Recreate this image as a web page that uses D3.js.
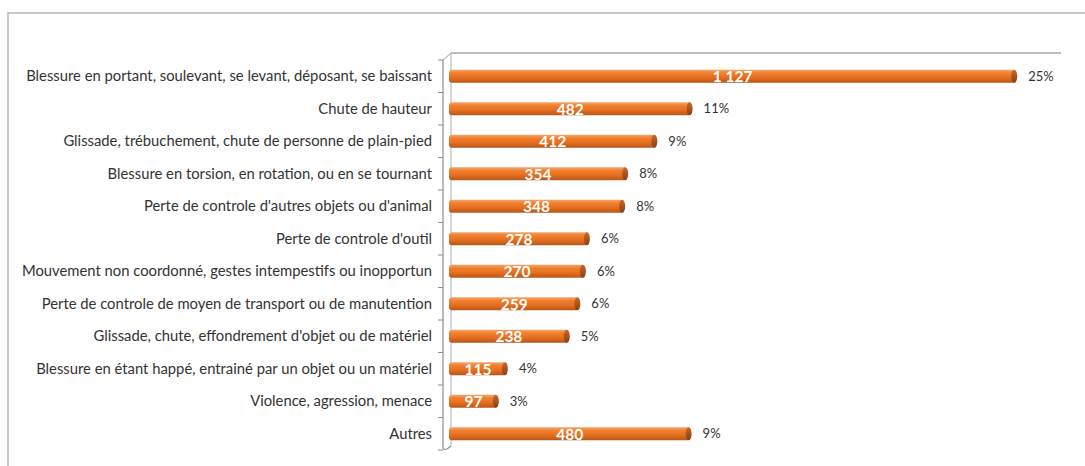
<!DOCTYPE html>
<html>
<head>
<meta charset="utf-8">
<script src="https://cdn.jsdelivr.net/npm/d3@7"></script>
<style>
  body { margin: 0; background: #fff; }
  svg { display: block; }
</style>
</head>
<body>
<div id="chart-container"></div>
<script>
var categories = [
  "Blessure en portant, soulevant,  se levant, déposant, se baissant",
  "Chute de hauteur",
  "Glissade, trébuchement, chute de personne de plain-pied",
  "Blessure en torsion, en rotation,  ou en se tournant",
  "Perte de controle d'autres objets ou d'animal",
  "Perte de controle d'outil",
  "Mouvement non coordonné,  gestes intempestifs ou inopportun",
  "Perte de controle de moyen de transport ou de manutention",
  "Glissade, chute, effondrement d'objet ou de matériel",
  "Blessure en étant happé, entrainé par un objet ou un matériel",
  "Violence, agression, menace",
  "Autres"
];
var values = [1127, 482, 412, 354, 348, 278, 270, 259, 238, 115, 97, 480];
var valueLabels = ["1 127", "482", "412", "354", "348", "278", "270", "259", "238", "115", "97", "480"];
var percents = ["25%", "11%", "9%", "8%", "8%", "6%", "6%", "6%", "5%", "4%", "3%", "9%"];

var data = categories.map(function(c, i) {
  return { name: c, value: values[i], label: valueLabels[i], pct: percents[i] };
});

var width = 1085, height = 466;
var depthX = 8, depthY = -7;

var svg = d3.select("#chart-container")
  .append("svg")
  .attr("width", width)
  .attr("height", height);

// outer chart frame
svg.append("rect")
  .attr("x", 8).attr("y", 13)
  .attr("width", 1090).attr("height", 470)
  .attr("fill", "none")
  .attr("stroke", "#b8b8b8")
  .attr("stroke-width", 1.5);

var x = d3.scaleLinear().domain([0, 1200]).range([449, 1053]);
var y = d3.scaleBand().domain(categories).range([60, 450])
  .paddingInner(0.6).paddingOuter(0.3);

var defs = svg.append("defs");
var grad = defs.append("linearGradient")
  .attr("id", "barGrad")
  .attr("x1", 0).attr("y1", 0).attr("x2", 0).attr("y2", 1);
grad.append("stop").attr("offset", "0%").attr("stop-color", "#f6a66a");
grad.append("stop").attr("offset", "25%").attr("stop-color", "#f08030");
grad.append("stop").attr("offset", "60%").attr("stop-color", "#e56f1f");
grad.append("stop").attr("offset", "100%").attr("stop-color", "#b8561a");

var capGrad = defs.append("linearGradient")
  .attr("id", "capGrad")
  .attr("x1", 0).attr("y1", 0).attr("x2", 0).attr("y2", 1);
capGrad.append("stop").attr("offset", "0%").attr("stop-color", "#c9682b");
capGrad.append("stop").attr("offset", "100%").attr("stop-color", "#8a3f12");

// 3D walls: back plane top edge and side wall
var x0 = x(0) - 6, yTop = y.range()[0], yBot = y.range()[1];
svg.append("path")
  .attr("d", "M" + (x0 + depthX) + "," + (yTop + depthY) + "H" + (x(1200) + depthX))
  .attr("stroke", "#bdbdbd").attr("stroke-width", 2).attr("fill", "none");
svg.append("path")
  .attr("d", "M" + (x0 + depthX) + "," + (yTop + depthY) + "V" + (yBot - 4))
  .attr("stroke", "#c8c8c8").attr("stroke-width", 1.5).attr("fill", "none");
svg.append("path")
  .attr("d", "M" + x0 + "," + yTop + "L" + (x0 + depthX) + "," + (yTop + depthY))
  .attr("stroke", "#9a9a9a").attr("stroke-width", 1).attr("fill", "none");

// front axis
var yAxis = d3.axisLeft(y).tickSize(0).tickFormat("");
svg.append("g")
  .attr("class", "y-axis")
  .attr("transform", "translate(" + x0 + ",0)")
  .call(yAxis)
  .call(function(g) {
    g.select(".domain").attr("stroke", "#8c8c8c").attr("stroke-width", 1.2)
      .attr("d", "M0," + yTop + "V" + (yBot - 2) + "Q0," + yBot + " 4," + (yBot - 1) + "L" + depthX + "," + (yBot - 4));
  });

// tick marks at category boundaries
var step = y.step();
var boundaries = d3.range(categories.length + 1).map(function(i) { return yTop + i * step; });
svg.append("g").selectAll("line")
  .data(boundaries)
  .enter().append("line")
  .attr("x1", x0 - 5).attr("x2", x0)
  .attr("y1", function(d) { return d; })
  .attr("y2", function(d) { return d; })
  .attr("stroke", "#8c8c8c");

// category labels
svg.append("g").selectAll("text")
  .data(data)
  .enter().append("text")
  .attr("x", 432)
  .attr("y", function(d) { return y(d.name) + y.bandwidth() / 2; })
  .attr("dy", "0.35em")
  .attr("text-anchor", "end")
  .attr("font-family", "Lato, 'Open Sans', sans-serif")
  .attr("font-size", 14.8)
  .attr("fill", "#333")
  .text(function(d) { return d.name; });

// bars
var bar = svg.append("g").selectAll(".bar")
  .data(data)
  .enter().append("g")
  .attr("class", "bar");

bar.append("rect")
  .attr("x", x(0))
  .attr("y", function(d) { return y(d.name); })
  .attr("width", function(d) { return x(d.value) - x(0); })
  .attr("height", y.bandwidth())
  .attr("rx", 3)
  .attr("fill", "url(#barGrad)");

bar.append("ellipse")
  .attr("cx", function(d) { return x(d.value) - 2; })
  .attr("cy", function(d) { return y(d.name) + y.bandwidth() / 2; })
  .attr("rx", 3)
  .attr("ry", y.bandwidth() / 2)
  .attr("fill", "url(#capGrad)");

// value labels inside bars
bar.append("text")
  .attr("x", function(d) { return (x(0) + x(d.value)) / 2; })
  .attr("y", function(d) { return y(d.name) + y.bandwidth() / 2; })
  .attr("dy", "0.4em")
  .attr("text-anchor", "middle")
  .attr("font-family", "Lato, 'Open Sans', sans-serif")
  .attr("font-size", 15.5)
  .attr("font-weight", "bold")
  .attr("fill", "#fff")
  .text(function(d) { return d.label; });

// percent labels
bar.append("text")
  .attr("x", function(d) { return x(d.value) + 12; })
  .attr("y", function(d) { return y(d.name) + y.bandwidth() / 2; })
  .attr("dy", "0.35em")
  .attr("font-family", "Lato, 'Open Sans', sans-serif")
  .attr("font-size", 13)
  .attr("fill", "#333")
  .text(function(d) { return d.pct; });
</script>
</body>
</html>
